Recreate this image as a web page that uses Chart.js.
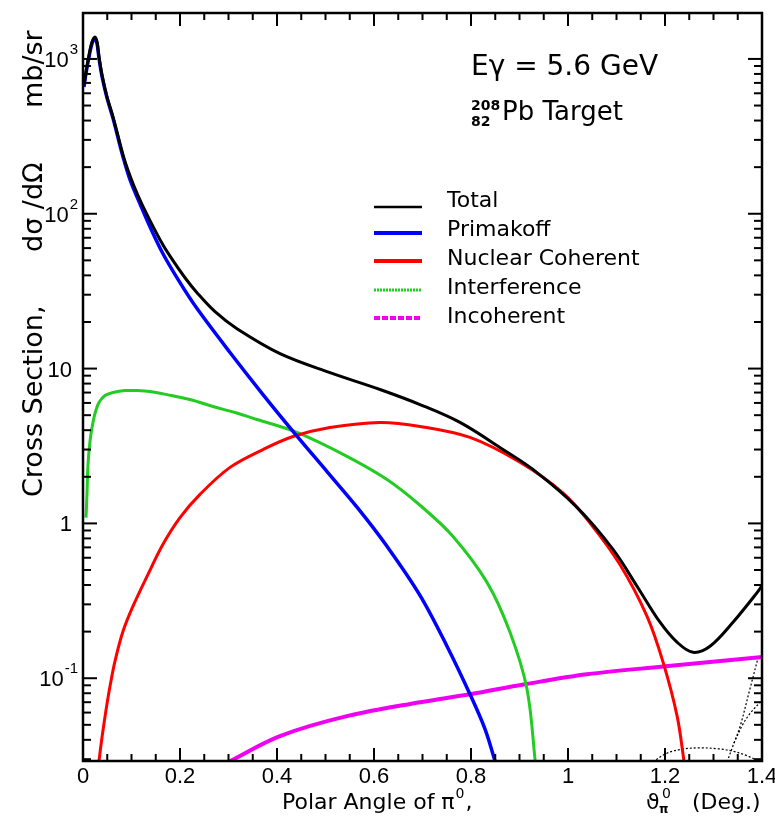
<!DOCTYPE html>
<html><head><meta charset="utf-8">
<script src="https://cdn.jsdelivr.net/npm/chart.js@4/dist/chart.umd.min.js"></script>
<style>html,body{margin:0;padding:0;background:#fff;}canvas{display:block}</style>
</head><body>
<canvas id="c" width="775" height="817"></canvas>
<script>
// ---------------- data ----------------
const totalTheta = [0.002,0.006,0.0124,0.0186,0.0247,0.0289,0.033,0.0392,0.0495,0.0619,0.0825,0.0969,0.1134,0.132,0.1588,0.1794,0.2103,0.2351,0.2722,0.3175,0.4062,0.5093,0.6124,0.6948,0.7773,0.866,0.9361,1.0186,1.0928,1.1423,1.1897,1.2247,1.2577,1.2928,1.3402,1.3918,1.4];
const totalValues = [680,824,1061,1288,1387,1288,1030,789,569,423,240,176,131,98.6,68,53.2,38.6,30.9,23.3,18.1,12.5,9.42,7.33,5.86,4.49,3.0,2.13,1.27,0.679,0.393,0.230,0.171,0.147,0.161,0.230,0.364,0.398];

const primakoffTheta = [0.002,0.006,0.0124,0.0186,0.0247,0.0289,0.033,0.0392,0.0495,0.0619,0.0825,0.0969,0.1175,0.1381,0.1649,0.2,0.2351,0.3031,0.3711,0.433,0.5031,0.567,0.6268,0.6948,0.7505,0.7979,0.8289,0.8495];
const primakoffValues = [660,800,1030,1260,1360,1260,1010,770,560,413,233,166,116,82.4,55.2,35.9,24.4,12.7,6.79,3.93,2.16,1.25,0.711,0.343,0.161,0.0788,0.0469,0.0292];

const nuclearTheta = [0.031,0.033,0.0392,0.0474,0.0557,0.066,0.0825,0.1031,0.132,0.1649,0.2,0.2412,0.3031,0.3711,0.433,0.509,0.612,0.695,0.798,0.901,0.99,1.045,1.107,1.163,1.196,1.225,1.24];
const nuclearValues = [0.025,0.0292,0.0416,0.0622,0.0888,0.129,0.201,0.292,0.455,0.733,1.09,1.54,2.30,3.0,3.64,4.16,4.49,4.23,3.59,2.48,1.57,1.01,0.543,0.251,0.127,0.0569,0.028];

const interferenceTheta = [0.0062,0.0082,0.0103,0.0144,0.0186,0.0247,0.033,0.0454,0.0619,0.0866,0.1113,0.1381,0.1732,0.2206,0.268,0.3134,0.3588,0.4412,0.5443,0.6268,0.6948,0.7629,0.833,0.8804,0.9155,0.933];
const interferenceValues = [1.09,1.54,2.40,3.38,4.16,5.12,6.04,6.70,7.0,7.21,7.21,7.11,6.79,6.31,5.69,5.2,4.69,3.87,2.71,1.92,1.31,0.824,0.416,0.198,0.0849,0.028];

const incoherentTheta = [0.30,0.406,0.544,0.695,0.798,0.911,1.039,1.196,1.39,1.4];
const incoherentValues = [0.0288,0.0423,0.0569,0.07,0.0788,0.0914,0.106,0.119,0.136,0.137];

// unlabelled dotted curves near the lower right corner
const arcTheta = [1.175,1.204,1.235,1.272,1.31,1.34,1.37,1.396];
const arcValues = [0.0288,0.0328,0.0348,0.0355,0.035,0.0338,0.0315,0.0288];
const riseATheta = [1.328,1.342,1.355,1.375,1.392];
const riseAValues = [0.0288,0.038,0.049,0.085,0.136];
const riseBTheta = [1.342,1.36,1.375,1.396];
const riseBValues = [0.038,0.050,0.059,0.07];

const seriesLabels = ['Total','Primakoff','Nuclear Coherent','Interference','Incoherent'];
const seriesColors = ['#000000','#0000ff','#ff0000','#22cc22','#f000f0'];

const xTickValues = [0,0.2,0.4,0.6,0.8,1,1.2,1.4];
const xTickLabels = ['0','0.2','0.4','0.6','0.8','1','1.2','1.4'];
const yTickValues = [0.1,1,10,100,1000];
const yTickBases = ['10','1','10','10','10'];
const yTickExponents = ['-1','','','2','3'];

// ---------------- chart ----------------
const X_MIN = 0, X_MAX = 1.4, Y_MIN = 0.0292, Y_MAX = 1980;
const pts = (xs, ys) => xs.map((x, i) => ({x, y: ys[i]}));
const near = (a, b) => Math.abs(a - b) < 1e-6 * Math.max(1, Math.abs(b));

function mainSet(i, xs, ys, w) {
  return { label: seriesLabels[i], data: pts(xs, ys), borderColor: seriesColors[i],
    borderWidth: w, pointRadius: 0, tension: 0.35, fill: false };
}
function dotSet(xs, ys) {
  return { label: '', data: pts(xs, ys), borderColor: '#000', borderWidth: 1.2,
    borderDash: [2, 2], pointRadius: 0, tension: 0.35, fill: false };
}

const legendStyles = [
  {w: 2.5, dash: []}, {w: 4, dash: []}, {w: 4, dash: []}, {w: 3, dash: [2, 1]}, {w: 4, dash: [6, 2]}
];

const decorPlugin = {
  id: 'decor',
  afterDatasetsDraw(chart) {
    const {ctx, chartArea: a, scales: {x, y}} = chart;
    ctx.save();
    ctx.strokeStyle = '#000';
    ctx.lineWidth = 2;
    const line = (x1, y1, x2, y2) => { ctx.beginPath(); ctx.moveTo(x1, y1); ctx.lineTo(x2, y2); ctx.stroke(); };
    x.ticks.forEach(t => {
      const px = x.getPixelForValue(t.value);
      const L = xTickValues.some(v => near(t.value, v)) ? 13 : 7;
      line(px, a.bottom, px, a.bottom - L);
      line(px, a.top, px, a.top + L);
    });
    y.ticks.forEach(t => {
      const py = y.getPixelForValue(t.value);
      const L = yTickValues.some(v => near(t.value, v)) ? 14 : 8;
      line(a.left, py, a.left + L, py);
      line(a.right, py, a.right - L, py);
    });
    ctx.lineWidth = 2.5;
    ctx.strokeRect(a.left, a.top, a.right - a.left, a.bottom - a.top);
    ctx.restore();
  },
  afterDraw(chart) {
    const {ctx, scales: {y}} = chart;
    ctx.save();
    ctx.fillStyle = '#000';
    ctx.textAlign = 'left';
    // y tick labels: base with superscript exponent
    yTickValues.forEach((v, i) => {
      const py = y.getPixelForValue(v);
      ctx.textBaseline = 'middle';
      ctx.font = '22px "Liberation Sans"';
      const bw = ctx.measureText(yTickBases[i]).width;
      if (yTickExponents[i]) {
        ctx.font = '15px "Liberation Sans"';
        const ew = ctx.measureText(yTickExponents[i]).width;
        const right = 78;
        ctx.fillText(yTickExponents[i], right - ew, py - 9);
        ctx.font = '22px "Liberation Sans"';
        ctx.fillText(yTickBases[i], right - ew - bw - 1, py + 2);
      } else {
        ctx.fillText(yTickBases[i], 72 - bw, py + 2);
      }
    });
    ctx.textBaseline = 'alphabetic';
    // annotation
    ctx.font = '28px "DejaVu Sans"';
    ctx.fillText('E\u03B3 = 5.6 GeV', 471, 75);
    ctx.font = '26px "DejaVu Sans"';
    ctx.fillText('Pb Target', 502, 120);
    ctx.font = 'bold 14px "DejaVu Sans"';
    ctx.fillText('208', 471, 110);
    ctx.fillText('82', 471, 126);
    // legend
    ctx.font = '22px "DejaVu Sans"';
    const rowY = [201, 230, 259, 288, 317];
    const lineY = [207, 233, 261, 290, 318];
    seriesLabels.forEach((lab, i) => {
      ctx.save();
      ctx.strokeStyle = chart.data.datasets[i].borderColor;
      ctx.lineWidth = legendStyles[i].w;
      ctx.setLineDash(legendStyles[i].dash);
      ctx.beginPath(); ctx.moveTo(374, lineY[i]); ctx.lineTo(422, lineY[i]); ctx.stroke();
      ctx.restore();
      ctx.textBaseline = 'middle';
      ctx.fillText(lab, 447, rowY[i]);
    });
    ctx.textBaseline = 'alphabetic';
    // x axis title
    ctx.font = '22px "DejaVu Sans"';
    ctx.fillText('Polar Angle of \u03C0', 282, 809);
    let w = ctx.measureText('Polar Angle of \u03C0').width;
    ctx.font = '14px "DejaVu Sans"';
    ctx.fillText('0', 282 + w + 1, 798);
    let w0 = ctx.measureText('0').width;
    ctx.font = '22px "DejaVu Sans"';
    ctx.fillText(',', 282 + w + w0 + 2, 809);
    ctx.fillText('\u03D1', 646, 809);
    ctx.font = 'bold 12px "DejaVu Sans"';
    ctx.fillText('\u03C0', 659, 813);
    ctx.font = '14px "DejaVu Sans"';
    ctx.fillText('0', 662, 798);
    ctx.font = '22px "DejaVu Sans"';
    ctx.fillText('(Deg.)', 692, 809);
    // y axis title (rotated)
    ctx.translate(42, 497);
    ctx.rotate(-Math.PI / 2);
    ctx.font = '27px "DejaVu Sans"';
    ctx.fillText('Cross Section,', 0, 0);
    ctx.fillText('d\u03C3 /d\u03A9', 245, 0);
    ctx.fillText('mb/sr', 389, 0);
    ctx.restore();
  }
};

new Chart(document.getElementById('c'), {
  type: 'line',
  data: {
    datasets: [
      mainSet(0, totalTheta, totalValues, 3),
      mainSet(1, primakoffTheta, primakoffValues, 3.5),
      mainSet(2, nuclearTheta, nuclearValues, 3),
      mainSet(3, interferenceTheta, interferenceValues, 3),
      mainSet(4, incoherentTheta, incoherentValues, 4),
      dotSet(arcTheta, arcValues),
      dotSet(riseATheta, riseAValues),
      dotSet(riseBTheta, riseBValues)
    ]
  },
  options: {
    responsive: false,
    animation: false,
    devicePixelRatio: 1,
    layout: { padding: { top: 13, right: 13, left: 0, bottom: 0 } },
    plugins: { legend: { display: false }, tooltip: { enabled: false }, title: { display: false } },
    scales: {
      x: {
        type: 'linear', min: X_MIN, max: X_MAX,
        grid: { display: false, drawTicks: false },
        border: { display: false },
        afterBuildTicks(s) {
          const t = [];
          for (let i = 0; i <= 28; i++) t.push({ value: Math.round(i * 5) / 100 });
          s.ticks = t;
        },
        ticks: {
          autoSkip: false, maxRotation: 0, minRotation: 0, padding: 3, color: '#000',
          font: { family: '"Liberation Sans"', size: 22 },
          callback(v) { const k = xTickValues.findIndex(u => near(v, u)); return k >= 0 ? xTickLabels[k] : ''; }
        },
        afterFit(s) { s.height = 56; s.paddingLeft = 0; s.paddingRight = 0; }
      },
      y: {
        type: 'logarithmic', min: Y_MIN, max: Y_MAX,
        grid: { display: false, drawTicks: false },
        border: { display: false },
        afterBuildTicks(s) {
          const t = [];
          for (let e = -2; e <= 3; e++) for (let k = 1; k <= 9; k++) {
            const v = +(k * Math.pow(10, e)).toPrecision(6);
            if (v >= Y_MIN && v <= Y_MAX) t.push({ value: v });
          }
          s.ticks = t;
        },
        ticks: { display: false },
        afterFit(s) { s.width = 83; s.paddingTop = 0; s.paddingBottom = 0; }
      }
    }
  },
  plugins: [decorPlugin]
});
</script>
</body></html>
